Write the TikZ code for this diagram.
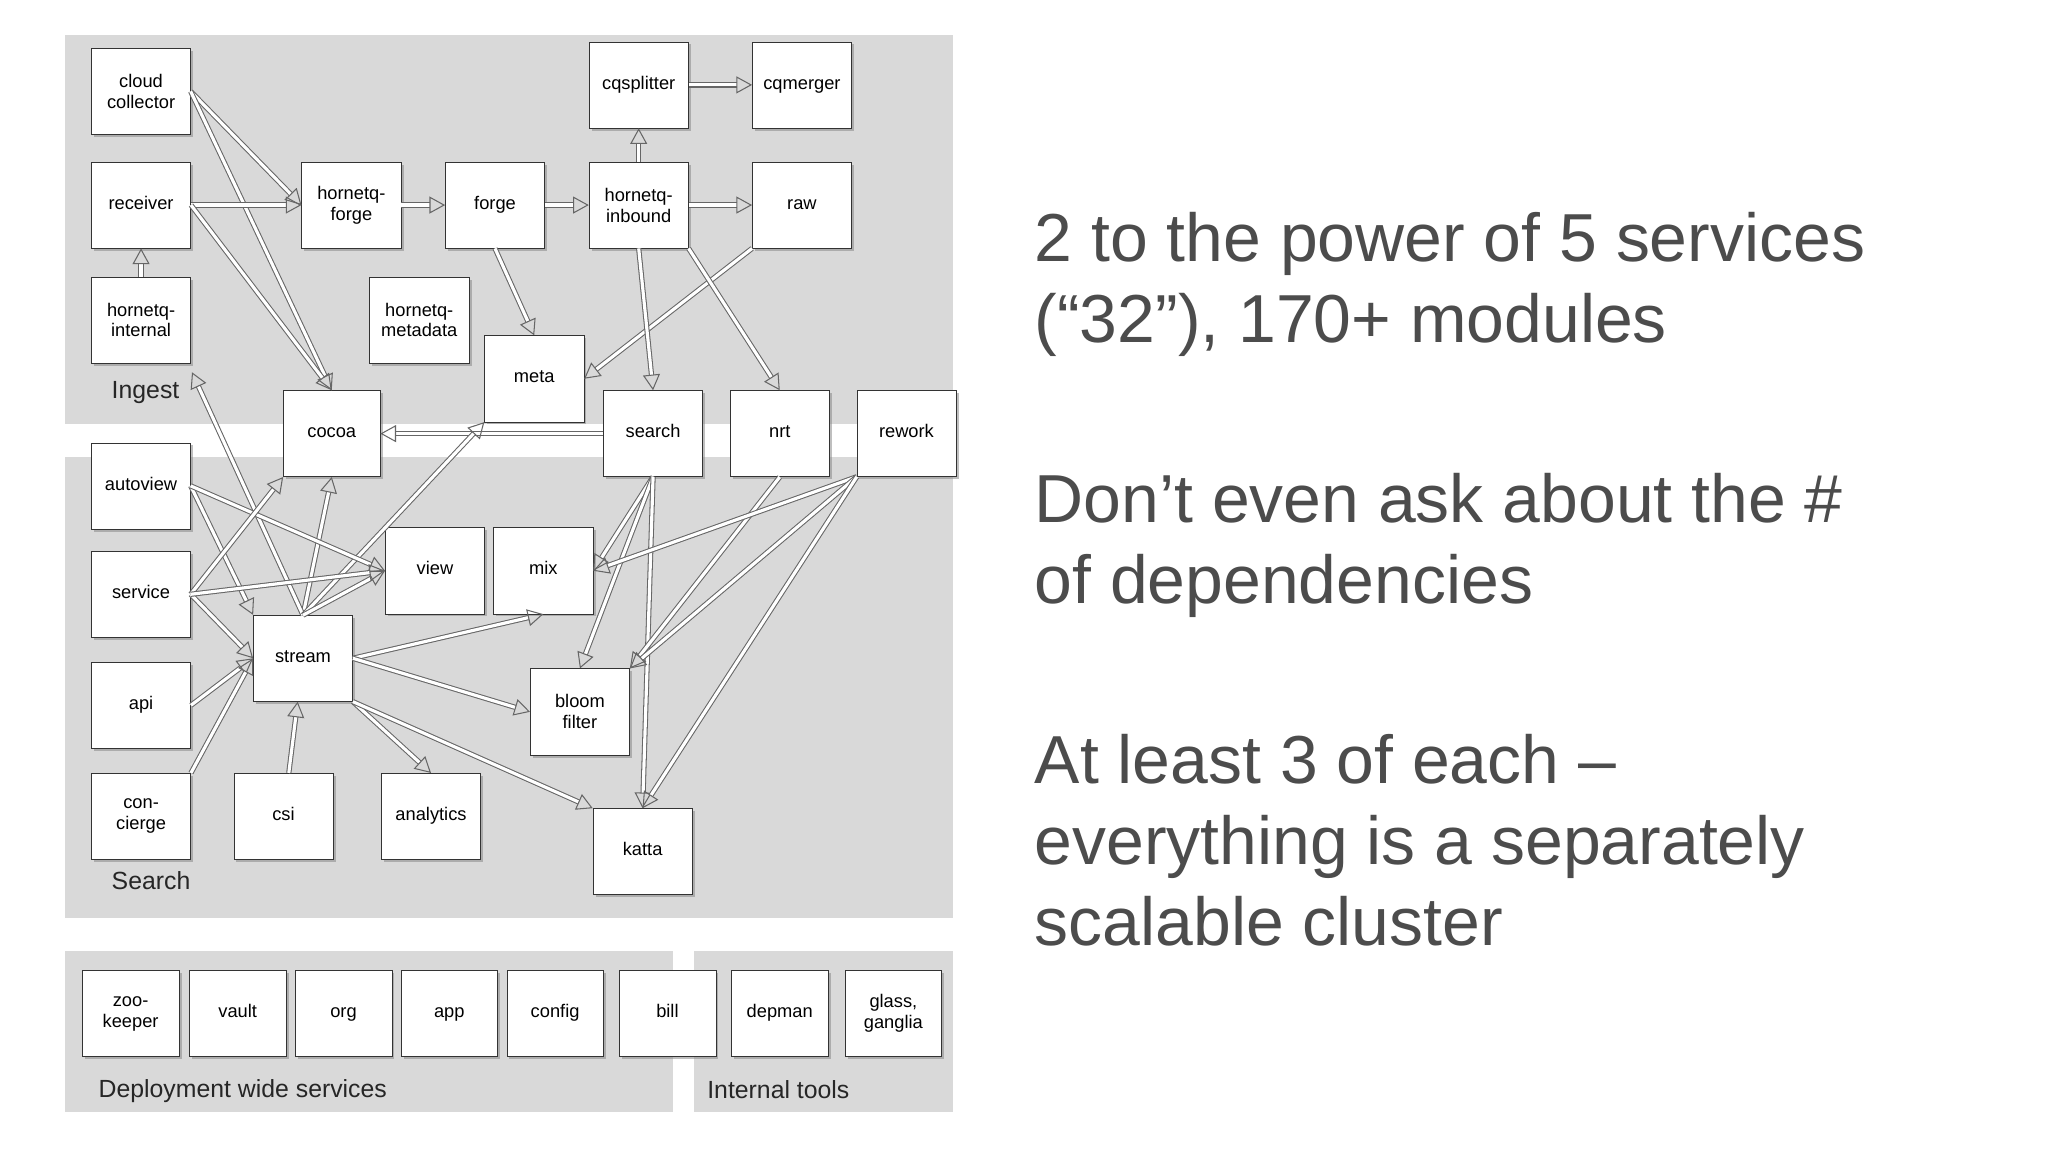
\documentclass[tikz,border=0pt]{standalone}
\usepackage{fontspec}
\setmainfont{Liberation Sans}
\usetikzlibrary{arrows.meta,shadows}
\begin{document}
\begin{tikzpicture}[x=1pt,y=-1pt,
 box/.style={draw=black!80,fill=white,minimum width=76pt,minimum height=66pt,align=center,font=\fontsize{14}{16}\selectfont,inner sep=1pt,drop shadow={shadow xshift=2pt,shadow yshift=-2pt,opacity=0.5}},
 sbox/.style={box,minimum width=74pt},
 ar/.style={draw=black!60,double=white,double distance=2.4pt,line width=0.8pt,-{Triangle[open,length=12pt,width=13pt]}},
 area/.style={fill=black!15,draw=none},
 lab/.style={font=\fontsize{19}{21}\selectfont,anchor=base west,text=black!85},
 big/.style={font=\fontsize{52}{56}\selectfont,anchor=base west,text=black!70,inner sep=0}]
\useasboundingbox (0,0) rectangle (1568,882);
\fill[white] (0,0) rectangle (1568,882);
\fill[area] (50,27) rectangle (730,325);
\fill[area] (50,350) rectangle (730,703);
\fill[area] (50,728) rectangle (515,851);
\fill[area] (531,728) rectangle (730,851);
\node[lab] at (82,305) {Ingest};
\node[lab] at (82,681) {Search};
\node[lab] at (72,840) {Deployment wide services};
\node[lab] at (538,841) {Internal tools};
% nodes
\node[box] (cc) at (108,70) {cloud\\collector};
\node[box] (rec) at (108,157) {\strut receiver};
\node[box] (hqi) at (108,245) {hornetq-\\internal};
\node[box] (hqf) at (269,157) {hornetq-\\forge};
\node[box] (forge) at (379,157) {\strut forge};
\node[box] (hqin) at (489,157) {hornetq-\\inbound};
\node[box] (cqs) at (489,65) {\strut cqsplitter};
\node[box] (cqm) at (614,65) {\strut cqmerger};
\node[box] (raw) at (614,157) {\strut raw};
\node[box] (hqm) at (321,245) {hornetq-\\metadata};
\node[box] (meta) at (409,290) {\strut meta};
\node[box,minimum width=74pt] (cocoa) at (254,332) {\strut cocoa};
\node[box] (search) at (500,332) {\strut search};
\node[box] (nrt) at (597,332) {\strut nrt};
\node[box] (rework) at (694,332) {\strut rework};
\node[box] (av) at (108,372) {\strut autoview};
\node[box] (svc) at (108,455) {\strut service};
\node[box] (api) at (108,540) {\strut api};
\node[box] (con) at (108,625) {con-\\cierge};
\node[box] (stream) at (232,504) {\strut stream};
\node[box] (view) at (333,437) {\strut view};
\node[box] (mix) at (416,437) {\strut mix};
\node[box] (bloom) at (444,545) {bloom\\filter};
\node[box] (csi) at (217,625) {\strut csi};
\node[box] (ana) at (330,625) {\strut analytics};
\node[box] (katta) at (492,652) {\strut katta};
\node[sbox] (zoo) at (100,776) {zoo-\\keeper};
\node[sbox] (vault) at (182,776) {\strut vault};
\node[sbox] (org) at (263,776) {\strut org};
\node[sbox] (app) at (344,776) {\strut app};
\node[sbox] (config) at (425,776) {\strut config};
\node[sbox] (bill) at (511,776) {\strut bill};
\node[sbox] (depman) at (597,776) {\strut depman};
\node[sbox] (glass) at (684,776) {glass,\\ganglia};
% edges
\coordinate (ccR) at (146,70);
\coordinate (stT) at (232,471);
\coordinate (svR) at (146,455);
\coordinate (avR) at (146,372);
\coordinate (srB) at (500,365);
\coordinate (rwL) at (656,365);
\coordinate (hqiE) at (147,285);
\draw[ar] (ccR) -- (hqf.west);
\draw[ar] (ccR) -- (cocoa.north);
\draw[ar] (rec.east) -- (hqf.west);
\draw[ar] (rec.east) -- (cocoa.north);
\draw[ar] (hqi) -- (rec);
\draw[ar] (hqf) -- (forge);
\draw[ar] (forge) -- (hqin);
\draw[ar] (hqin) -- (cqs);
\draw[ar] (cqs) -- (cqm);
\draw[ar] (hqin) -- (raw);
\draw[ar] (forge.south) -- (meta.north);
\draw[ar] (raw.south west) -- (meta.east);
\draw[ar] (hqin.south) -- (search.north);
\draw[ar] (hqin.south east) -- (nrt.north);
\draw[ar] (search.west) -- (cocoa.east);
\draw[ar] (stT) -- (cocoa.south);
\draw[ar] (stT) -- (hqiE);
\draw[ar] (stT) -- (meta.south west);
\draw[ar] (stT) -- (view.west);
\draw[ar] (avR) -- (stream.north west);
\draw[ar] (avR) -- (view.west);
\draw[ar] (svR) -- (cocoa.south west);
\draw[ar] (svR) -- (stream.west);
\draw[ar] (svR) -- (view.west);
\draw[ar] (api.east) -- (stream.west);
\draw[ar] (con.north east) -- (stream.west);
\draw[ar] (csi) -- (stream);
\draw[ar] (stream.east) -- (mix.south);
\draw[ar] (stream.east) -- (bloom.west);
\draw[ar] (stream.south east) -- (ana.north);
\draw[ar] (stream.south east) -- (katta.north west);
\draw[ar] (srB) -- (mix.east);
\draw[ar] (srB) -- (bloom.north);
\draw[ar] (srB) -- (katta.north);
\draw[ar] (nrt.south) -- (bloom.north east);
\draw[ar] (rwL) -- (mix.east);
\draw[ar] (rwL) -- (bloom.north east);
\draw[ar] (rwL) -- (katta.north);
% right text
\node[big] at (792,200) {2 to the power of 5 services};
\node[big] at (792,262) {(“32”), 170+ modules};
\node[big] at (792,400) {Don’t even ask about the \#};
\node[big] at (792,462) {of dependencies};
\node[big] at (792,600) {At least 3 of each –};
\node[big] at (792,662) {everything is a separately};
\node[big] at (792,724) {scalable cluster};
\end{tikzpicture}
\end{document}
